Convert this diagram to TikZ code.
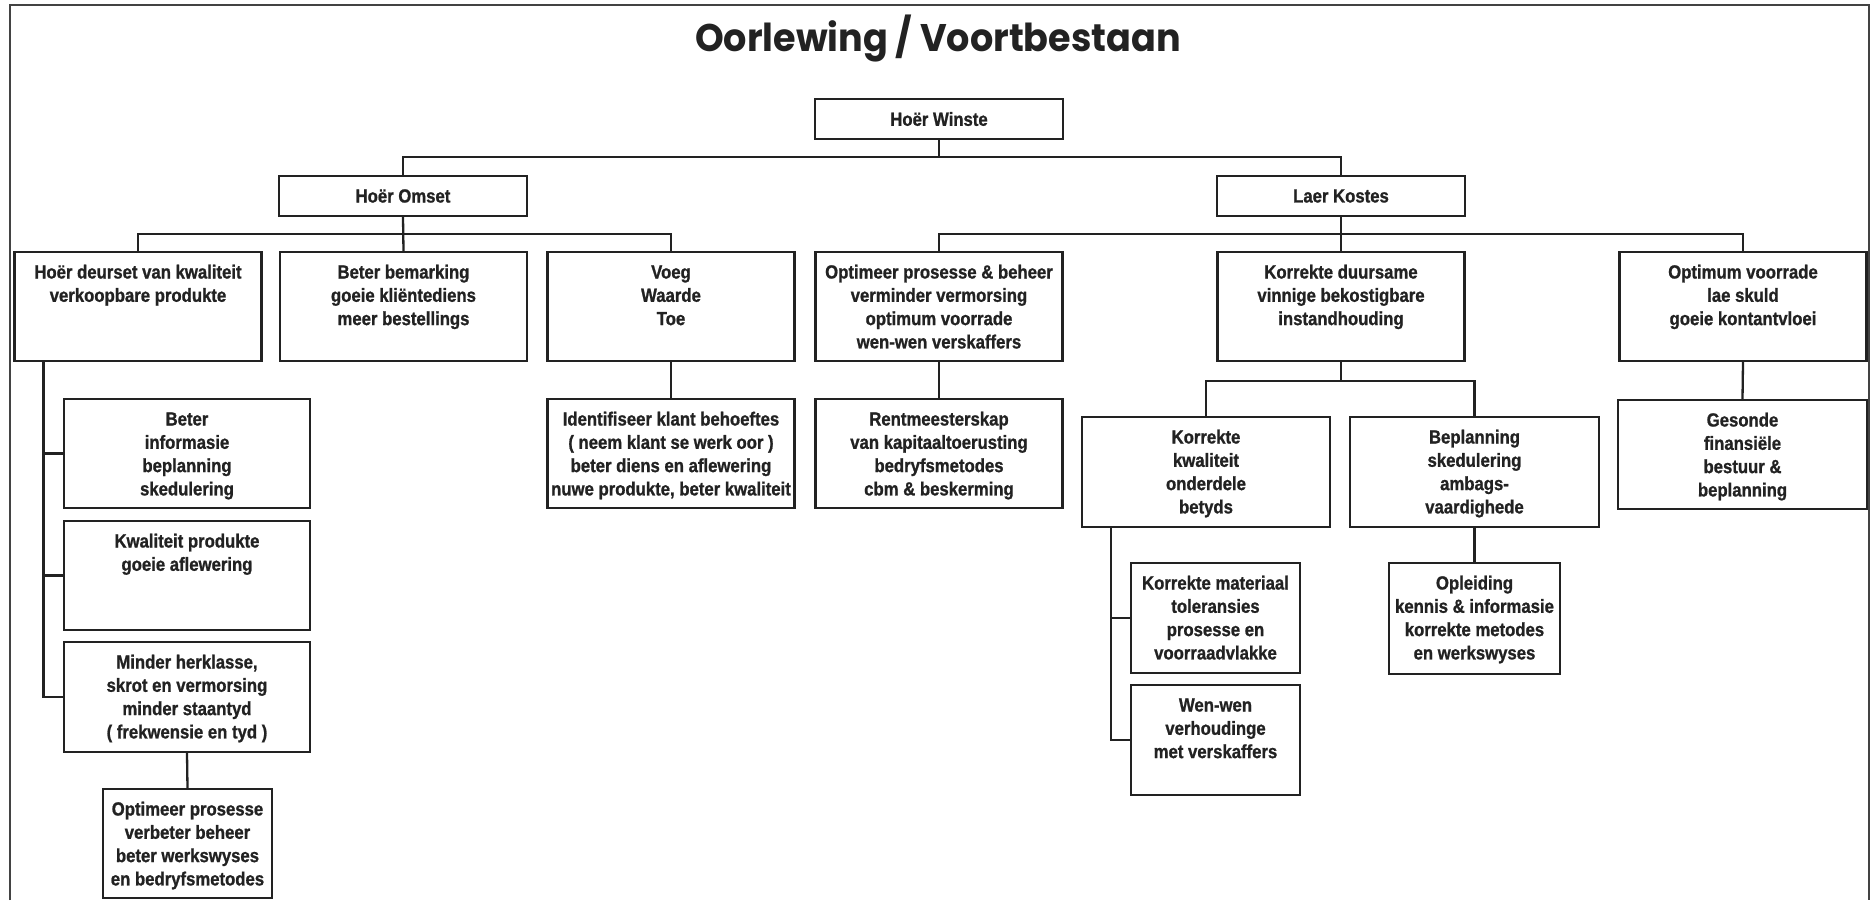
\documentclass[tikz,border=0pt]{standalone}
\usepackage{fontspec}
\usetikzlibrary{calc}
\newfontfamily\boxfont{Liberation Sans}[FakeStretch=0.88, BoldFeatures={FakeBold=1}]
\newfontfamily\titlefont{Poppins}[FakeStretch=0.95]
\definecolor{ink}{HTML}{222222}

% cell{width}{height}{lines}: fixed-size box with its lines set from the top
\newcommand\cell[3]{\parbox[c][#2pt][t]{#1pt}{\centering\fontsize{19}{23.3}\selectfont\rule{0pt}{26.5pt}#3}}
% ccell{width}{height}{text}: fixed-size box with one centred line
\newcommand\ccell[3]{\parbox[c][#2pt][c]{#1pt}{\centering\fontsize{19}{23.3}\selectfont #3}}

\begin{document}
\begin{tikzpicture}[x=1pt,y=-1pt,
  box/.style={draw=ink, fill=white, line width=2.3pt, inner sep=0pt, text=ink, font=\boxfont\bfseries},
  link/.style={draw=ink, line width=2.3pt},
  frame/.style={draw=ink!85, line width=2pt},
  heading/.style={inner sep=0pt, text=ink, font=\titlefont\bfseries\fontsize{38.5}{44}\selectfont}]

\useasboundingbox (0,0) rectangle (1872,900);
\fill[white] (0,0) rectangle (1872,900);

% page frame, open at the foot
\draw[frame] (10,900) -- (10,5) -- (1869,5) -- (1869,900);

% heading
\node[heading, anchor=base] (title) at (938,51) {Oorlewing / Voortbestaan};

% top levels
\node[box] (hw) at (939,119) {\ccell{248}{40}{Hoër Winste}};
\node[box] (ho) at (403,196) {\ccell{248}{40}{Hoër Omset}};
\node[box] (lk) at (1341,196) {\ccell{248}{40}{Laer Kostes}};

% third level
\node[box] (d1) at (138,306.5) {\cell{247}{109}{Hoër deurset van kwaliteit\\verkoopbare produkte}};
\node[box] (d2) at (403.5,306.5) {\cell{247}{109}{Beter bemarking\\goeie kliëntediens\\meer bestellings}};
\node[box] (d3) at (671,306.5) {\cell{247}{109}{Voeg\\Waarde\\Toe}};
\node[box] (d4) at (939,306.5) {\cell{247}{109}{Optimeer prosesse \& beheer\\verminder vermorsing\\optimum voorrade\\wen-wen verskaffers}};
\node[box] (d5) at (1341,306.5) {\cell{247}{109}{Korrekte duursame\\vinnige bekostigbare\\instandhouding}};
\node[box] (d6) at (1743,306.5) {\cell{247}{109}{Optimum voorrade\\lae skuld\\goeie kontantvloei}};

% under "Hoër deurset van kwaliteit"
\node[box] (a1) at (187,453.5) {\cell{246}{109}{Beter\\informasie\\beplanning\\skedulering}};
\node[box] (a2) at (187,575.5) {\cell{246}{109}{Kwaliteit produkte\\goeie aflewering}};
\node[box] (a3) at (187,697) {\cell{246}{110}{Minder herklasse,\\skrot en vermorsing\\minder staantyd\\( frekwensie en tyd )}};
\node[box] (a4) at (187.5,843.5) {\cell{169}{109}{Optimeer prosesse\\verbeter beheer\\beter werkswyses\\en bedryfsmetodes}};

% under "Voeg Waarde Toe" and "Optimeer prosesse & beheer"
\node[box] (c1) at (671,453.5) {\cell{247}{109}{Identifiseer klant behoeftes\\( neem klant se werk oor )\\beter diens en aflewering\\nuwe produkte, beter kwaliteit}};
\node[box] (c2) at (939,453.5) {\cell{247}{109}{Rentmeesterskap\\van kapitaaltoerusting\\bedryfsmetodes\\cbm \& beskerming}};

% under "Korrekte duursame"
\node[box] (e1) at (1206,472) {\cell{248}{110}{Korrekte\\kwaliteit\\onderdele\\betyds}};
\node[box] (e2) at (1474.5,472) {\cell{249}{110}{Beplanning\\skedulering\\ambags-\\vaardighede}};
\node[box] (e3) at (1215.5,618) {\cell{169}{110}{Korrekte materiaal\\toleransies\\prosesse en\\voorraadvlakke}};
\node[box] (e4) at (1215.5,740) {\cell{169}{110}{Wen-wen\\verhoudinge\\met verskaffers}};
\node[box] (e5) at (1474.5,618.5) {\cell{171}{111}{Opleiding\\kennis \& informasie\\korrekte metodes\\en werkswyses}};

% under "Optimum voorrade"
\node[box] (f1) at (1742.5,454.5) {\cell{249}{109}{Gesonde\\finansiële\\bestuur \&\\beplanning}};

% bus heights
\coordinate (bus1) at (939,157);
\coordinate (bus2) at (403,234);
\coordinate (bus3) at (1341,234);
\coordinate (bus4) at (1341,381);
\coordinate (t1) at ($(d1.south west)+(30,0)$);
\coordinate (t2) at ($(e1.south west)+(30,0)$);

% connectors
\draw[link] (hw.south) -- (bus1);
\draw[link] (ho.north) |- (lk.north |- bus1) -- (lk.north);

\draw[link] (ho.south) -- (d2.north);
\draw[link] (d1.north) |- (d3.north |- bus2) -- (d3.north);

\draw[link] (lk.south) -- (d5.north);
\draw[link] (d4.north) |- (d6.north |- bus3) -- (d6.north);

\draw[link] (t1) |- (a3.west);
\draw[link] (t1 |- a1.west) -- (a1.west);
\draw[link] (t1 |- a2.west) -- (a2.west);
\draw[link] (a3.south) -- (a4.north);

\draw[link] (d3.south) -- (c1.north);
\draw[link] (d4.south) -- (c2.north);

\draw[link] (d5.south) -- (bus4);
\draw[link] (e1.north) |- (e2.north |- bus4) -- (e2.north);
\draw[link] (t2) |- (e4.west);
\draw[link] (t2 |- e3.west) -- (e3.west);
\draw[link] (e2.south) -- (e5.north);

\draw[link] (d6.south) -- (f1.north);
\end{tikzpicture}
\end{document}
